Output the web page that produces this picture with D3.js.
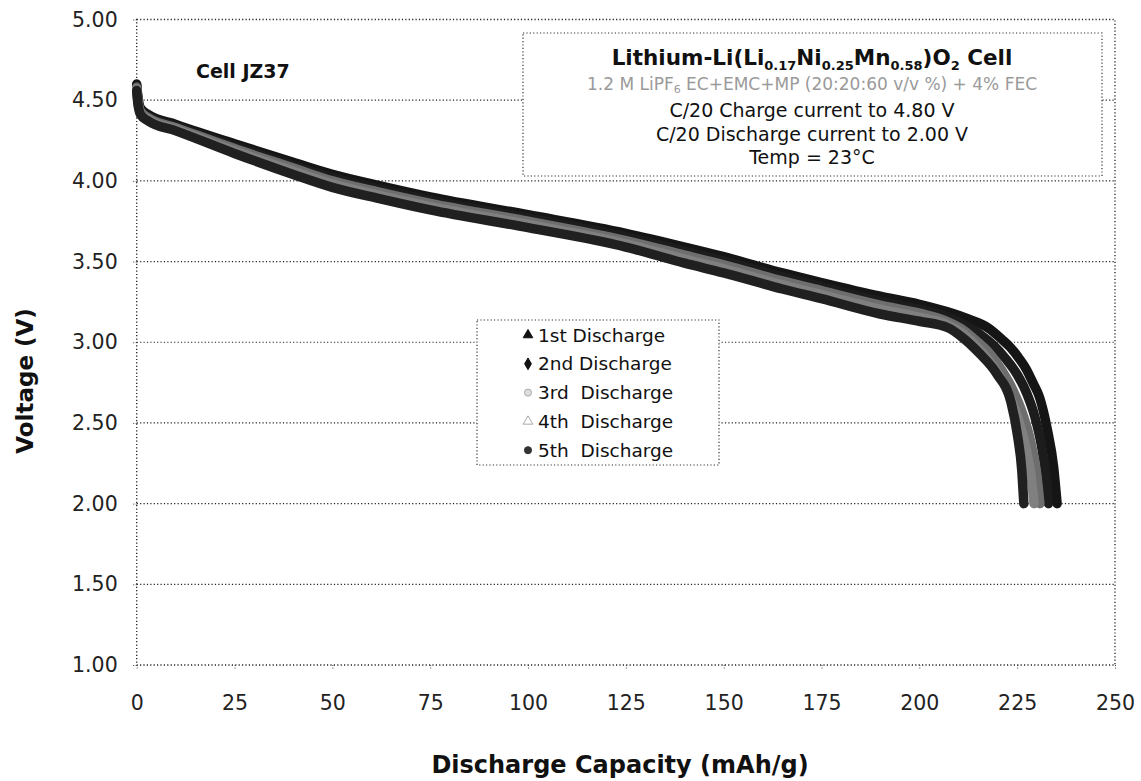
<!DOCTYPE html>
<html><head><meta charset="utf-8">
<script src="https://cdn.jsdelivr.net/npm/d3@7"></script>
<style>body{margin:0;background:#fff}svg{display:block}text{font-family:"DejaVu Sans",Verdana,sans-serif}</style>
</head><body><svg id="c" width="1141" height="781"></svg>
<script>
const seriesNames = ["1st Discharge","2nd Discharge","3rd  Discharge","4th  Discharge","5th  Discharge"];
const xTicks = [0,25,50,75,100,125,150,175,200,225,250];
const yTicks = [1.0,1.5,2.0,2.5,3.0,3.5,4.0,4.5,5.0];

const cap1 = [0,0.3,1,3,10,25,40,50,62,75,100,125,140,150,165,175,190,200,207,213,217.5,221,223.2,225.5,227.4,229,230.7,232.7,234.3,235.2];
const volt1= [4.60,4.52,4.45,4.41,4.35,4.23,4.115,4.04,3.97,3.90,3.79,3.675,3.59,3.53,3.43,3.37,3.285,3.235,3.19,3.14,3.09,3.02,2.97,2.90,2.83,2.75,2.66,2.46,2.23,2.00];
const cap2 = [0,0.3,1,3,10,25,40,50,62,75,100,125,140,150,165,175,190,200,207,212,216,219,222,225,227.5,229.5,231.2,232.3,233.0];
const volt2= [4.59,4.51,4.44,4.40,4.34,4.215,4.095,4.02,3.95,3.88,3.77,3.655,3.565,3.505,3.405,3.345,3.255,3.205,3.16,3.10,3.04,2.98,2.90,2.80,2.68,2.54,2.36,2.18,2.00];
const cap3 = [0,0.3,1,3,10,25,40,50,62,75,100,125,140,150,165,175,190,200,207,211,215,218,221,224,226.5,228.5,229.9,230.8];
const volt3= [4.58,4.50,4.43,4.39,4.33,4.20,4.08,4.00,3.93,3.86,3.75,3.63,3.54,3.48,3.38,3.32,3.23,3.18,3.13,3.08,3.00,2.93,2.83,2.70,2.55,2.38,2.20,2.00];
const cap4 = [0,0.3,1,3,10,25,40,50,62,75,100,125,140,150,165,175,190,200,207,211,214,217,220,223,225.3,227.2,228.5,229.3];
const volt4= [4.57,4.49,4.42,4.38,4.32,4.185,4.06,3.98,3.91,3.84,3.73,3.61,3.515,3.455,3.355,3.295,3.205,3.155,3.11,3.055,2.99,2.91,2.81,2.67,2.52,2.35,2.18,2.00];
const cap5 = [0,0.3,1,3,10,25,40,50,62,75,100,125,140,150,165,175,190,200,207.3,211,215.4,219.9,223.4,225.1,226.2,226.7];
const volt5= [4.56,4.48,4.41,4.37,4.31,4.17,4.04,3.96,3.89,3.82,3.71,3.59,3.49,3.43,3.33,3.27,3.175,3.13,3.09,3.03,2.93,2.80,2.63,2.42,2.20,2.00];

const caps = [cap1,cap2,cap3,cap4,cap5];
const volts = [volt1,volt2,volt3,volt4,volt5];
const colors = ["#151515","#1c1c1c","#6e6e6e","#808080","#202020"];

const svg = d3.select("#c");
const x = d3.scaleLinear().domain([0,250]).range([136.7,1115]);
const y = d3.scaleLinear().domain([1,5]).range([665,19.5]);
const dot = "1.2,2.2";

svg.append("g").selectAll("line").data(yTicks.filter(v=>v>1&&v<5)).join("line")
  .attr("x1",x(0)).attr("x2",x(250)).attr("y1",d=>y(d)).attr("y2",d=>y(d))
  .attr("stroke","#222").attr("stroke-width",1.2).attr("stroke-dasharray",dot);
svg.append("rect").attr("x",x(0)).attr("y",y(5)).attr("width",x(250)-x(0)).attr("height",y(1)-y(5))
  .attr("fill","none").attr("stroke","#222").attr("stroke-width",1.3).attr("stroke-dasharray",dot);

const yAxis = d3.axisLeft(y).tickValues(yTicks).tickFormat(d3.format(".2f")).tickSize(5).tickPadding(14);
const gy = svg.append("g").attr("transform",`translate(${x(0)},0)`).call(yAxis);
const xAxis = d3.axisBottom(x).tickValues(xTicks).tickSize(5).tickPadding(25);
const gx = svg.append("g").attr("transform",`translate(0,${y(1)})`).call(xAxis);
[gy,gx].forEach(g=>{
  g.select(".domain").remove();
  g.selectAll(".tick line").attr("stroke","#444").attr("stroke-dasharray","1,1.5");
  g.selectAll(".tick text").attr("font-size",20.5).attr("fill","#222").style("font-family","DejaVu Sans");
});

const line = d3.line().x(d=>x(d[0])).y(d=>y(d[1])).curve(d3.curveMonotoneX);
svg.append("g").selectAll("path").data(caps.map((c,i)=>c.map((v,j)=>[v,volts[i][j]]))).join("path")
  .attr("d",line).attr("fill","none").attr("stroke",(d,i)=>colors[i])
  .attr("stroke-width",9.5).attr("stroke-linejoin","round").attr("stroke-linecap","round");

svg.append("text").attr("x",620).attr("y",773).attr("text-anchor","middle")
  .attr("font-size",24).attr("font-weight","bold").attr("fill","#111").text("Discharge Capacity (mAh/g)");
svg.append("text").attr("transform","translate(33,381) rotate(-90)").attr("text-anchor","middle")
  .attr("font-size",23).attr("font-weight","bold").attr("fill","#111").text("Voltage (V)");

svg.append("text").attr("x",196).attr("y",78).attr("font-size",19).attr("font-weight","bold").attr("fill","#111").text("Cell JZ37");

svg.append("rect").attr("x",523).attr("y",33).attr("width",579).attr("height",143)
  .attr("fill","#fff").attr("stroke","#333").attr("stroke-width",1.2).attr("stroke-dasharray",dot);
const cx = 812;
const t1 = svg.append("text").attr("x",cx).attr("y",65).attr("text-anchor","middle")
  .attr("font-size",21.5).attr("font-weight","bold").attr("fill","#111");
let off = 0;
[["Lithium-Li(Li",0],["0.17",1],["Ni",0],["0.25",1],["Mn",0],["0.58",1],[")O",0],["2",1],[" Cell",0]].forEach(([s,sub])=>{
  const target = sub?5:0;
  t1.append("tspan").attr("font-size",sub?13:21.5).attr("dy",target-off).text(s);
  off = target;
});
const t2 = svg.append("text").attr("x",cx).attr("y",90).attr("text-anchor","middle").attr("font-size",17).attr("fill","#9a9a9a");
t2.append("tspan").text("1.2 M LiPF");
t2.append("tspan").attr("font-size",11).attr("dy",3).text("6");
t2.append("tspan").attr("dy",-3).text(" EC+EMC+MP (20:20:60  v/v %) + 4% FEC");
const lines = ["C/20 Charge current to 4.80 V","C/20 Discharge current to 2.00 V","Temp = 23°C"];
svg.append("g").selectAll("text").data(lines).join("text").attr("x",cx).attr("y",(d,i)=>117+i*23.5)
  .attr("text-anchor","middle").attr("font-size",19).attr("fill","#111").text(d=>d);

svg.append("rect").attr("x",477).attr("y",320).attr("width",242).attr("height",145)
  .attr("fill","#fff").attr("stroke","#333").attr("stroke-width",1.2).attr("stroke-dasharray",dot);
const symTypes = [d3.symbolTriangle,d3.symbolDiamond,d3.symbolCircle,d3.symbolTriangle,d3.symbolCircle];
const symFill = ["#111","#111","#ddd","none","#333"];
const symStroke = ["#111","#111","#aaa","#aaa","#333"];
const lg = svg.append("g").selectAll("g").data(seriesNames).join("g")
  .attr("transform",(d,i)=>`translate(528,${335+i*28.8})`);
lg.append("path").attr("d",(d,i)=>d3.symbol(symTypes[i],40)()).attr("fill",(d,i)=>symFill[i]).attr("stroke",(d,i)=>symStroke[i]);
lg.append("text").attr("x",10).attr("y",6.5).attr("font-size",18.5).attr("fill","#111").attr("xml:space","preserve").text(d=>d);
</script></body></html>
